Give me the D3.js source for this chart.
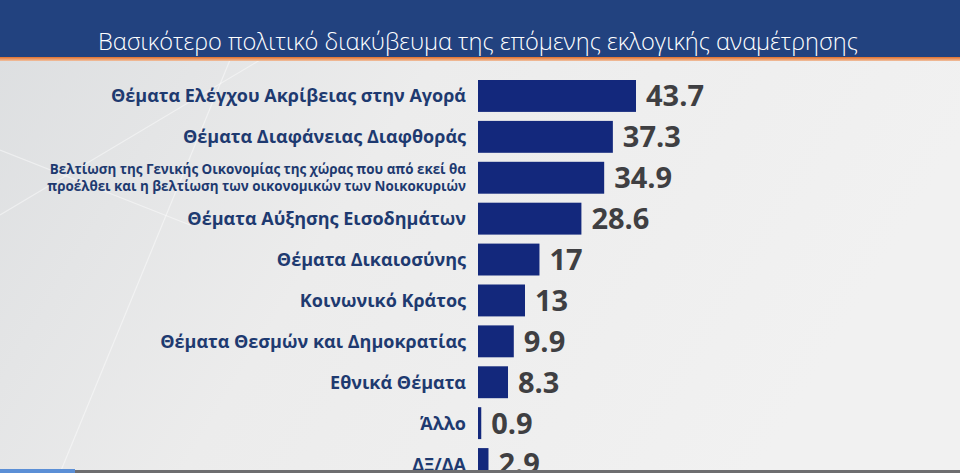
<!DOCTYPE html>
<html>
<head>
<meta charset="utf-8">
<script src="https://cdn.jsdelivr.net/npm/d3@7"></script>
<style>
  body { margin: 0; overflow: hidden; }
  svg { display: block; }
</style>
</head>
<body>
<div id="chart"></div>
<script>

var title = "Βασικότερο πολιτικό διακύβευμα της επόμενης εκλογικής αναμέτρησης";

var categories = [
  "Θέματα Ελέγχου Ακρίβειας στην Αγορά",
  "Θέματα Διαφάνειας Διαφθοράς",
  "Βελτίωση της Γενικής Οικονομίας της χώρας που από εκεί θα|προέλθει και η βελτίωση των οικονομικών των Νοικοκυριών",
  "Θέματα Αύξησης Εισοδημάτων",
  "Θέματα Δικαιοσύνης",
  "Κοινωνικό Κράτος",
  "Θέματα Θεσμών και Δημοκρατίας",
  "Εθνικά Θέματα",
  "Άλλο",
  "ΔΞ/ΔΑ"
];

var values = [43.7, 37.3, 34.9, 28.6, 17, 13, 9.9, 8.3, 0.9, 2.9];

var valueLabels = ["43.7", "37.3", "34.9", "28.6", "17", "13", "9.9", "8.3", "0.9", "2.9"];

var width = 960, height = 473;

var svg = d3.select("#chart").append("svg")
    .attr("width", width)
    .attr("height", height);

var defs = svg.append("defs");

var bg = defs.append("linearGradient").attr("id", "bg")
    .attr("x1", "0").attr("y1", "0").attr("x2", "1").attr("y2", "0.3");
bg.append("stop").attr("offset", "0").attr("stop-color", "#dcdee0");
bg.append("stop").attr("offset", "0.45").attr("stop-color", "#ececec");
bg.append("stop").attr("offset", "1").attr("stop-color", "#f1f1f1");

var orange = defs.append("linearGradient").attr("id", "orange")
    .attr("x1", "0").attr("y1", "0").attr("x2", "0").attr("y2", "1");
orange.append("stop").attr("offset", "0").attr("stop-color", "#e2702c");
orange.append("stop").attr("offset", "1").attr("stop-color", "#f0c0a0");

// background
svg.append("rect")
    .attr("width", width).attr("height", height)
    .attr("fill", "url(#bg)");

// faint diagonal streaks on the left
var streaks = [[0, 215, 260, 60], [60, 473, 230, 60], [0, 150, 190, 225]];
svg.selectAll(".streak")
    .data(streaks)
    .enter().append("line")
    .attr("class", "streak")
    .attr("x1", function(d) { return d[0]; })
    .attr("y1", function(d) { return d[1]; })
    .attr("x2", function(d) { return d[2]; })
    .attr("y2", function(d) { return d[3]; })
    .attr("stroke", "#ffffff")
    .attr("stroke-opacity", 0.45)
    .attr("stroke-width", 1.2);

// header
svg.append("rect")
    .attr("width", width).attr("height", 57)
    .attr("fill", "#22427f");
svg.append("rect")
    .attr("y", 57).attr("width", width).attr("height", 4)
    .attr("fill", "url(#orange)");

svg.append("text")
    .attr("x", 478)
    .attr("y", 50)
    .attr("text-anchor", "middle")
    .attr("fill", "#ffffff")
    .style("font-family", "'Open Sans', sans-serif")
    .style("font-weight", 300)
    .style("font-size", "23.6px")
    .text(title);

// scales
var x = d3.scaleLinear()
    .domain([0, 43.7])
    .range([478, 636]);

var y = d3.scaleBand()
    .domain(categories)
    .range([75.5, 484.5])
    .paddingInner(0.22)
    .paddingOuter(0.11);

var rows = svg.selectAll(".row")
    .data(categories)
    .enter().append("g")
    .attr("class", "row");

rows.append("rect")
    .attr("x", x(0))
    .attr("y", function(d) { return y(d); })
    .attr("width", function(d, i) { return x(values[i]) - x(0); })
    .attr("height", y.bandwidth())
    .attr("fill", "#13287c");

rows.append("text")
    .attr("x", function(d, i) { return x(values[i]) + 10; })
    .attr("y", function(d) { return y(d) + y.bandwidth() / 2; })
    .attr("dy", "0.36em")
    .attr("fill", "#3f3f42")
    .style("font-family", "'Open Sans', sans-serif")
    .style("font-weight", 700)
    .style("font-size", "29px")
    .text(function(d, i) { return valueLabels[i]; });

rows.each(function(d) {
  var lines = d.split("|");
  var t = d3.select(this).append("text")
      .attr("text-anchor", "end")
      .attr("fill", "#1e3a70")
      .style("font-family", "'Open Sans', sans-serif")
      .style("font-weight", 700)
      .style("font-size", lines.length > 1 ? "13.4px" : "18px");
  var cy = y(d) + y.bandwidth() / 2;
  lines.forEach(function(line, k) {
    t.append("tspan")
      .attr("x", 466)
      .attr("y", lines.length > 1 ? cy - 8.5 + k * 17 : cy)
      .attr("dy", "0.36em")
      .text(line);
  });
});

// bottom ticker strip
svg.append("rect")
    .attr("y", 470).attr("width", width).attr("height", 3)
    .attr("fill", "#6e6e70");
svg.append("rect")
    .attr("y", 469).attr("width", 75).attr("height", 4)
    .attr("fill", "#5b8fd6");

</script>
</body>
</html>
